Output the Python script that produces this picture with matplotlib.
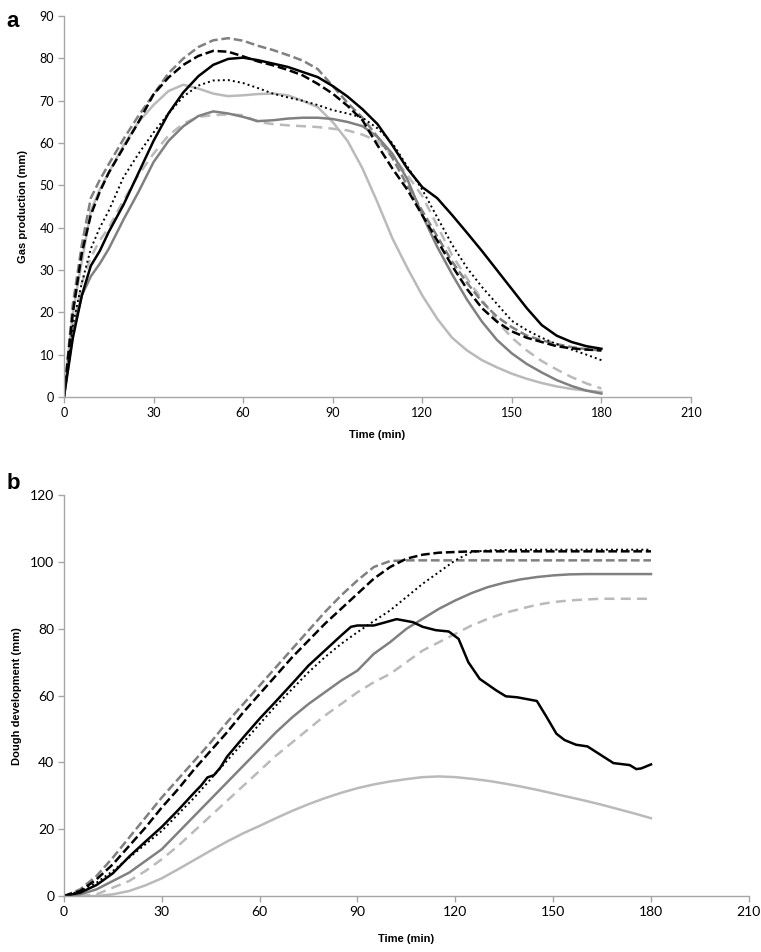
import matplotlib
matplotlib.use("Agg")
import matplotlib.pyplot as plt
import numpy as np

# ---- panel a: gas production (mm) vs time (min)
time_a = [0, 3, 6, 9, 12, 15, 20, 25, 30, 35, 40, 45, 50, 55, 60, 65, 70, 75, 80, 85, 90,
          95, 100, 105, 110, 115, 120, 125, 130, 135, 140, 145, 150, 155, 160, 165, 170, 175, 180]
a_black_solid = [0, 14, 24, 31, 34.5, 39, 45.5, 53, 60.5, 67, 72, 75.8, 78.5, 79.9, 80.2, 79.6,
                 78.8, 78, 76.8, 75.6, 73.5, 71, 68, 64.5, 59.5, 54, 49.6, 47, 43, 38.8,
                 34.5, 30, 25.5, 21, 17, 14.5, 13, 12, 11.4]
a_black_dashed = [0, 20, 34, 43, 48.5, 53, 59, 65, 71.5, 75.5, 78.5, 80.6, 81.8, 81.6, 80.5, 79.3,
                  78.4, 77.3, 76, 74, 71.7, 68.8, 65.4, 59.5, 54, 49, 43, 37, 31, 25.5,
                  21, 17.8, 15.5, 14, 13, 12, 11.5, 11.2, 11]
a_black_dotted = [0, 17, 27, 35, 40, 44, 52, 57.5, 62.5, 67, 71, 73.6, 74.8, 74.9, 74.2,
                  73, 71.7, 70.8, 70, 69, 67.8, 67, 66, 63.5, 60, 54.5, 49, 42.5, 36,
                  30.5, 26, 22, 18, 15.8, 14, 12.5, 11.2, 10, 8.7]
a_gray_solid = [0, 15, 24, 28.5, 31.5, 35, 42, 48.5, 55.5, 60.5, 64, 66.4, 67.5, 67, 66.2,
                65.2, 65.4, 65.8, 66, 66, 65.7, 65, 64, 61.5, 57.5, 51.5, 43, 35.5, 29,
                23, 17.8, 13.5, 10.3, 7.8, 5.8, 4, 2.6, 1.5, 0.8]
a_gray_dashed = [0, 22, 36, 47, 51.3, 55, 61, 66.5, 71.5, 76.5, 80, 82.7, 84.3, 84.8, 84.2, 83,
                 82, 80.8, 79.5, 77.5, 73.5, 69.5, 66, 61.5, 56.5, 50, 44, 38, 32, 27, 22.5,
                 19, 16.5, 14.5, 13.4, 12.5, 11.8, 11.3, 11]
a_light_solid = [0, 20, 32, 44, 49, 53, 59.5, 65, 69, 72.3, 73.8, 72.9, 71.7, 71.1, 71.3,
                 71.6, 71.7, 71.3, 70, 68.5, 65, 60.5, 54, 46, 37.5, 30.5, 24, 18.5, 14, 11,
                 8.7, 7, 5.5, 4.3, 3.3, 2.5, 1.9, 1.5, 1.2]
a_light_dashed = [0, 16, 27, 33, 37, 40, 46.5, 52.5, 57.5, 61.8, 64.6, 66.2, 66.6, 66.8, 66.6, 65,
                  64.5, 64.2, 64, 63.8, 63.4, 63, 62, 60.5, 57, 52.5, 47.5, 40.5, 33.5, 28, 23,
                  18, 14, 11, 8.5, 6.5, 4.7, 3.2, 2]

# ---- panel b: dough development (mm) vs time (min)
time_b = [0, 5, 10, 15, 20, 25, 30, 35, 40, 45, 50, 55, 60, 65, 70, 75, 80, 85, 90, 95, 100,
          105, 110, 115, 120, 125, 130, 135, 140, 145, 150, 155, 160, 165, 170, 175, 180]
b_gray_dashed = [0, 2, 6, 11.5, 17.5, 23.5, 29.5, 35, 40.5, 46, 52, 57.5, 63, 68.5, 74, 79.5,
                 85, 90, 94.5, 98.5, 100.3, 100.5, 100.5, 100.5, 100.5, 100.5, 100.5, 100.5,
                 100.5, 100.5, 100.5, 100.5, 100.5, 100.5, 100.5, 100.5, 100.5]
b_black_dashed = [0, 1.5, 5, 9.5, 15, 20.5, 26.5, 32, 38, 43.5, 49, 55, 60.5, 66, 71.5, 76.5,
                  81.5, 86, 90.5, 95, 98.5, 101, 102.2, 102.8, 103, 103.2, 103.2, 103.2, 103.2,
                  103.2, 103.2, 103.2, 103.2, 103.2, 103.2, 103.2, 103.2]
b_black_dotted = [0, 1.5, 4, 7.5, 11.5, 15.5, 19.5, 24.5, 29.5, 35, 40.5, 46, 51.5, 57, 62, 67,
                  71.5, 75.5, 79, 82.3, 85.5, 89.5, 93.5, 97, 100.5, 103, 103.5, 103.6, 103.7,
                  103.7, 103.7, 103.7, 103.7, 103.7, 103.7, 103.7, 103.7]
b_gray_solid = [0, 0.5, 2, 4.5, 7, 10.5, 14, 19, 24, 29, 34, 39, 44, 49, 53.5, 57.5, 61, 64.5,
                67.5, 72.5, 76, 80, 83, 86, 88.5, 90.7, 92.5, 93.8, 94.8, 95.5, 96, 96.3, 96.4,
                96.4, 96.4, 96.4, 96.4]
b_light_dashed = [0, 0, 0.5, 2.5, 4.5, 7.5, 11, 15, 19.5, 24, 28.5, 33, 37.5, 42, 46, 50, 54,
                  57.5, 61, 64, 66.5, 70, 73.5, 76, 78.5, 81, 83, 84.7, 86, 87.2, 88, 88.5,
                  88.8, 89, 89, 89, 89]
b_light_solid = [0, 0, 0, 0.5, 1.5, 3.2, 5.3, 8, 10.8, 13.6, 16.3, 18.8, 21, 23.3, 25.5, 27.5,
                 29.3, 30.9, 32.3, 33.4, 34.3, 35, 35.6, 35.8, 35.6, 35.1, 34.5, 33.7, 32.8,
                 31.8, 30.7, 29.6, 28.5, 27.3, 26, 24.7, 23.3]
time_b_black = [0, 5, 10, 15, 20, 25, 30, 35, 40, 42, 44, 46, 48, 50, 55, 60, 65, 70, 75, 80,
                85, 88, 90, 95, 98, 102, 107, 110, 114, 118, 121, 124, 127.5, 132.5, 135.5,
                139, 145, 148, 151, 153.5, 157, 160.5, 164.5, 168.5, 173.5, 175.5, 177, 180]
b_black_solid = [0, 1, 3.3, 6.8, 11.8, 16.3, 20.7, 25.7, 31, 33, 35.5, 36.2, 38.5, 41.7, 47.5,
                 53.1, 58.3, 63.6, 69, 73.5, 78, 80.6, 81, 81, 81.8, 82.9, 82, 80.6, 79.6, 79.2,
                 77, 70, 65, 61.6, 59.8, 59.5, 58.4, 53.6, 48.6, 46.7, 45.3, 44.8, 42.3, 39.8,
                 39.2, 38, 38.2, 39.4]

BLACK = "#000000"
GRAY = "#808080"
LIGHT = "#bababa"
AXCOL = "#a6a6a6"


def style_axis(ax, ymax, ystep, tick_size):
    ax.set_xlim(0, 210)
    ax.set_ylim(0, ymax)
    ax.set_xticks(np.arange(0, 211, 30))
    ax.set_yticks(np.arange(0, ymax + 1, ystep))
    for s in ["top", "right"]:
        ax.spines[s].set_visible(False)
    for s in ["left", "bottom"]:
        ax.spines[s].set_color(AXCOL)
        ax.spines[s].set_linewidth(1.0)
    ax.tick_params(direction="out", length=4, width=1, color=AXCOL,
                   labelsize=tick_size, pad=3)
    for lab in ax.get_xticklabels() + ax.get_yticklabels():
        lab.set_fontfamily("Lato")
    ax.margins(0)


fig = plt.figure(figsize=(7.61, 9.52), dpi=100)

# panel a
ax1 = fig.add_axes([0.084, 0.583, 0.824, 0.400])
ax1.plot(time_a, a_light_solid, color=LIGHT, lw=1.8)
ax1.plot(time_a, a_light_dashed, color=LIGHT, lw=1.8, dashes=(4, 2.5))
ax1.plot(time_a, a_gray_solid, color=GRAY, lw=1.8)
ax1.plot(time_a, a_gray_dashed, color=GRAY, lw=1.8, dashes=(3.5, 1.5))
ax1.plot(time_a, a_black_dotted, color=BLACK, lw=1.4, linestyle=(0, (1, 1.6)))
ax1.plot(time_a, a_black_dashed, color=BLACK, lw=1.8, dashes=(3.5, 1.5))
ax1.plot(time_a, a_black_solid, color=BLACK, lw=1.8)
style_axis(ax1, 90, 10, 9)
ax1.set_xlabel("Time (min)", fontsize=8, fontweight="bold", family="Liberation Sans", labelpad=8)
ax1.set_ylabel("Gas production (mm)", fontsize=8, fontweight="bold", family="Liberation Sans", labelpad=8)
fig.text(0.008, 0.988, "a", fontsize=16, fontweight="bold", family="Liberation Sans", va="top")

# panel b
ax2 = fig.add_axes([0.084, 0.0588, 0.900, 0.421])
ax2.plot(time_b, b_light_solid, color=LIGHT, lw=1.8)
ax2.plot(time_b, b_light_dashed, color=LIGHT, lw=1.8, dashes=(4, 2.5))
ax2.plot(time_b, b_gray_solid, color=GRAY, lw=1.8)
ax2.plot(time_b, b_gray_dashed, color=GRAY, lw=1.8, dashes=(3.5, 1.5))
ax2.plot(time_b, b_black_dotted, color=BLACK, lw=1.4, linestyle=(0, (1, 1.6)))
ax2.plot(time_b, b_black_dashed, color=BLACK, lw=1.8, dashes=(3.5, 1.5))
ax2.plot(time_b_black, b_black_solid, color=BLACK, lw=1.8)
style_axis(ax2, 120, 20, 10)
ax2.set_xlabel("Time (min)", fontsize=8, fontweight="bold", family="Liberation Sans", labelpad=12)
ax2.set_ylabel("Dough development (mm)", fontsize=8, fontweight="bold", family="Liberation Sans", labelpad=6)
fig.text(0.008, 0.503, "b", fontsize=16, fontweight="bold", family="Liberation Sans", va="top")

fig.savefig("out.png", dpi=100)
